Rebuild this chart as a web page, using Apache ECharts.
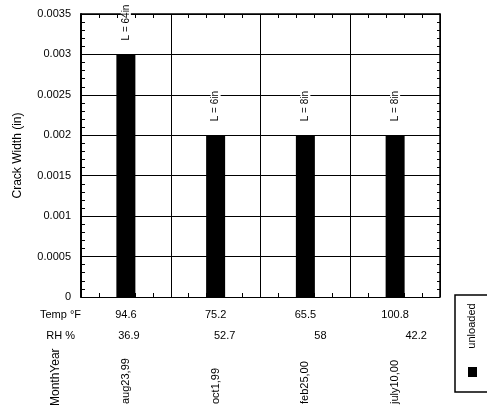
<!DOCTYPE html>
<html><head><meta charset="utf-8">
<script src="https://cdn.jsdelivr.net/npm/echarts@6/dist/echarts.min.js"></script>
<style>html,body{margin:0;padding:0;background:#fff}#c{width:487px;height:411px}</style>
</head><body><div id="c"></div>
<script>
const categories = ['aug23,99', 'oct1,99', 'feb25,00', 'july10,00'];
const crackWidth = [0.003, 0.002, 0.002, 0.002];
const barLabels = ['L = 64in', 'L = 6in', 'L = 8in', 'L = 8in'];
const tempF = ['94.6', '75.2', '65.5', '100.8'];
const rhPct = ['36.9', '52.7', '58', '42.2'];
const seriesName = 'unloaded';
const rowTitles = ['Temp \u00B0F', 'RH %', 'MonthYear'];
const yAxisTitle = 'Crack Width (in)';

const FONT = 'Liberation Sans';
const chart = echarts.init(document.getElementById('c'), null, {renderer: 'canvas'});
const noShow = {show: false};
const font11 = '11px "Liberation Sans"';
const option = {
  animation: false,
  backgroundColor: '#fff',
  textStyle: {fontFamily: FONT, color: '#000'},
  grid: [
    {left: 81, right: 47, top: 14, bottom: 114, containLabel: false},
    {left: 81, right: 23, top: 14, bottom: 114, containLabel: false}
  ],
  xAxis: [
    { // main category axis (boundaries / bottom border)
      type: 'category', gridIndex: 0, data: categories, position: 'bottom',
      axisLine: {show: true, lineStyle: {color: '#000', width: 1}},
      axisTick: noShow, axisLabel: noShow,
      splitLine: {show: true, lineStyle: {color: '#000', width: 1}}
    },
    { // Temp row
      type: 'category', gridIndex: 0, data: tempF, position: 'bottom', offset: 18,
      axisLine: noShow, axisTick: noShow, splitLine: noShow,
      axisLabel: {show: true, margin: 0, verticalAlign: 'middle', fontSize: 11, color: '#000', interval: 0}
    },
    { // RH row
      type: 'category', gridIndex: 1, data: rhPct, position: 'bottom', offset: 39,
      axisLine: noShow, axisTick: noShow, splitLine: noShow,
      axisLabel: {show: true, margin: 0, verticalAlign: 'middle', fontSize: 11, color: '#000', interval: 0}
    },
    { // Date row
      type: 'category', gridIndex: 0, data: categories, position: 'bottom', offset: 80,
      axisLine: noShow, axisTick: noShow, splitLine: noShow,
      axisLabel: {show: true, margin: 27, rotate: 90, align: 'left', verticalAlign: 'middle', fontSize: 11, color: '#000', interval: 0}
    },
    { // top border ticks
      type: 'value', gridIndex: 0, position: 'top', min: 0, max: 20, interval: 1,
      axisLine: {show: true, onZero: false, lineStyle: {color: '#000', width: 1.5}},
      axisTick: {show: true, inside: true, length: 4, lineStyle: {color: '#000'}},
      axisLabel: noShow, splitLine: noShow
    },
    { // bottom ticks
      type: 'value', gridIndex: 0, position: 'bottom', min: 0, max: 20, interval: 1,
      axisLine: {show: false, onZero: false},
      axisTick: {show: true, inside: true, length: 4, lineStyle: {color: '#000'}},
      axisLabel: noShow, splitLine: noShow
    },
    {type: 'category', gridIndex: 1, data: rhPct, show: false}
  ],
  yAxis: [
    {
      type: 'value', gridIndex: 0, min: 0, max: 0.0035, interval: 0.0005, position: 'left',
      name: yAxisTitle, nameLocation: 'middle', nameGap: 57,
      nameTextStyle: {fontSize: 12, color: '#000'},
      axisLine: {show: true, onZero: false, lineStyle: {color: '#000', width: 2}},
      axisTick: {show: true, inside: true, length: 6, lineStyle: {color: '#000'}},
      minorTick: {show: true, splitNumber: 5, length: 4, lineStyle: {color: '#000'}},
      axisLabel: {show: true, margin: 10, fontSize: 11, color: '#000', hideOverlap: false,
        showMinLabel: true, showMaxLabel: true,
        formatter: v => String(+v.toFixed(4))},
      splitLine: {show: true, lineStyle: {color: '#000', width: 1}}
    },
    {
      type: 'value', gridIndex: 0, min: 0, max: 0.0035, interval: 0.0005, position: 'right',
      axisLine: {show: true, onZero: false, lineStyle: {color: '#000', width: 1.5}},
      axisTick: {show: true, inside: true, length: 5, lineStyle: {color: '#000'}},
      minorTick: {show: true, splitNumber: 5, length: 3, lineStyle: {color: '#000'}},
      axisLabel: noShow, splitLine: noShow
    },
    {type: 'value', gridIndex: 1, show: false, min: 0, max: 0.0035}
  ],
  series: [{
    name: seriesName, type: 'bar', xAxisIndex: 0, yAxisIndex: 0,
    data: crackWidth, barWidth: 19,
    itemStyle: {color: '#000'},
    label: {
      show: true, position: 'top', rotate: 90, align: 'left', verticalAlign: 'middle',
      distance: 12, fontSize: 10, color: '#000', backgroundColor: '#fff', padding: [0, 4, 0, 2],
      formatter: p => barLabels[p.dataIndex]
    }
  }],
  graphic: [
    {type: 'text', x: 81, y: 315,
      style: {text: rowTitles[0], font: font11, fill: '#000', align: 'right', verticalAlign: 'middle'}},
    {type: 'text', x: 75, y: 336,
      style: {text: rowTitles[1], font: font11, fill: '#000', align: 'right', verticalAlign: 'middle'}},
    {type: 'text', x: 56, y: 406, rotation: Math.PI / 2,
      style: {text: rowTitles[2], font: '12px "Liberation Sans"', fill: '#000', align: 'left', verticalAlign: 'middle'}},
    {type: 'rect', shape: {x: 455, y: 295, width: 40, height: 97},
      style: {fill: '#fff', stroke: '#000', lineWidth: 1.5}},
    {type: 'text', x: 472, y: 326, rotation: Math.PI / 2,
      style: {text: seriesName, font: font11, fill: '#000', align: 'center', verticalAlign: 'middle'}},
    {type: 'rect', shape: {x: 468, y: 367, width: 9, height: 10}, style: {fill: '#000'}}
  ]
};
chart.setOption(option);
</script>
</body></html>
